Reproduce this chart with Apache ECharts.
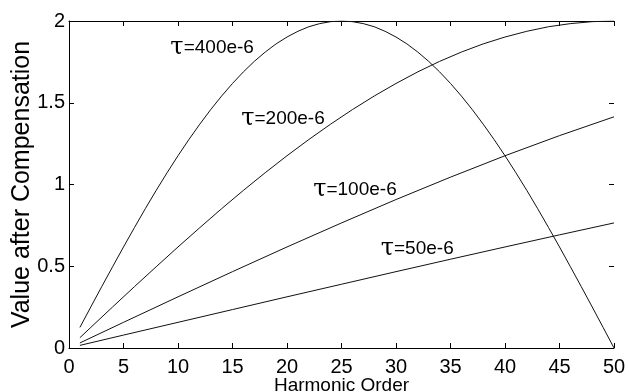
<!DOCTYPE html>
<html>
<head>
<meta charset="utf-8">
<script src="https://cdn.jsdelivr.net/npm/echarts@6/dist/echarts.min.js"></script>
<style>
html,body{margin:0;padding:0;background:#fff;}
#chart{width:629px;height:392px;}
</style>
</head>
<body>
<div id="chart"></div>
<script>
// Harmonic orders and values
const h400 = [1,2,3,4,5,6,7,8,9,10,11,12,13,14,15,16,17,18,19,20,21,22,23,24,25,26,27,28,29,30,31,32,33,34,35,36,37,38,39,40,41,42,43,44,45,46,47,48,49,50];
const v400 = [0.126,0.251,0.375,0.497,0.618,0.736,0.852,0.964,1.072,1.176,1.275,1.369,1.458,1.541,1.618,1.689,1.753,1.810,1.860,1.902,1.937,1.965,1.984,1.996,2.000,1.996,1.984,1.965,1.937,1.902,1.860,1.810,1.753,1.689,1.618,1.541,1.458,1.369,1.275,1.176,1.072,0.964,0.852,0.736,0.618,0.497,0.375,0.251,0.126,0.000];
const h200 = [1,2,4,6,8,10,12,14,16,18,20,22,24,26,28,30,32,34,36,38,40,42,44,46,48,50];
const v200 = [0.063,0.126,0.251,0.375,0.497,0.618,0.736,0.852,0.964,1.072,1.176,1.275,1.369,1.458,1.541,1.618,1.689,1.753,1.810,1.860,1.902,1.937,1.965,1.984,1.996,2.000];
const h100 = [1,5,10,15,20,25,30,35,40,45,50];
const v100 = [0.031,0.157,0.313,0.467,0.618,0.765,0.908,1.045,1.176,1.299,1.414];
const h50 = [1,5,10,15,20,25,30,35,40,45,50];
const v50 = [0.016,0.079,0.157,0.235,0.313,0.390,0.467,0.543,0.618,0.692,0.765];

const labels = ['400e-6','200e-6','100e-6','50e-6'];
// label anchor (left-middle) in data coordinates
const labelAnchors = [[9.3,1.835],[15.8,1.40],[22.4,0.967],[28.6,0.606]];

const FONT = '"Liberation Sans", Arial, Helvetica, sans-serif';
function zip(xs, ys){ return xs.map((x,i)=>[x, ys[i]]); }

function mkSeries(xs, ys, idx){
  return {
    type:'line', data: zip(xs, ys), showSymbol:false, symbol:'none',
    lineStyle:{color:'#111', width:1}, animation:false, silent:true,
    markPoint:{
      symbol:'circle', symbolSize:0, silent:true, animation:false,
      data:[{coord: labelAnchors[idx], value: labels[idx]}],
      label:{
        show:true, position:[0,0], align:'left', verticalAlign:'middle',
        formatter: () => '{t|τ}{n|=' + labels[idx] + '}',
        rich:{
          t:{fontFamily:'"DejaVu Serif", serif', fontSize:24, color:'#000', verticalAlign:'middle'},
          n:{fontFamily:FONT, fontSize:19, color:'#000', verticalAlign:'middle'}
        }
      }
    }
  };
}

const chart = echarts.init(document.getElementById('chart'), null, {renderer:'canvas'});
chart.setOption({
  animation:false,
  backgroundColor:'#fff',
  grid:{left:69, right:15, top:21, bottom:44, containLabel:false, outerBoundsMode:'none'},
  xAxis:[{
    type:'value', min:0, max:50, interval:5,
    name:'Harmonic Order', nameLocation:'middle', nameGap:28, nameMoveOverlap:false,
    nameTextStyle:{fontFamily:FONT, fontSize:19, color:'#000'},
    axisLine:{show:true, onZero:false, lineStyle:{color:'#000', width:1}},
    axisTick:{show:true, inside:true, length:5, lineStyle:{color:'#000'}},
    axisLabel:{fontFamily:FONT, fontSize:20, color:'#000', margin:9},
    splitLine:{show:false}
  },{
    type:'value', min:0, max:50, interval:5, position:'top',
    axisLine:{show:true, onZero:false, lineStyle:{color:'#000', width:1}},
    axisTick:{show:true, inside:true, length:5, lineStyle:{color:'#000'}},
    axisLabel:{show:false}, splitLine:{show:false}
  }],
  yAxis:[{
    type:'value', min:0, max:2, interval:0.5,
    name:'Value after Compensation', nameLocation:'middle', nameGap:34, nameMoveOverlap:false,
    nameTextStyle:{fontFamily:FONT, fontSize:25, color:'#000'},
    axisLine:{show:true, onZero:false, lineStyle:{color:'#000', width:1}},
    axisTick:{show:true, inside:true, length:5, lineStyle:{color:'#000'}},
    axisLabel:{fontFamily:FONT, fontSize:20, color:'#000', margin:4},
    splitLine:{show:false}
  },{
    type:'value', min:0, max:2, interval:0.5, position:'right',
    axisLine:{show:false, onZero:false},
    axisTick:{show:true, inside:true, length:5, lineStyle:{color:'#000'}},
    axisLabel:{show:false}, splitLine:{show:false}
  }],
  series:[
    mkSeries(h400, v400, 0),
    mkSeries(h200, v200, 1),
    mkSeries(h100, v100, 2),
    mkSeries(h50, v50, 3)
  ]
});
</script>
</body>
</html>
